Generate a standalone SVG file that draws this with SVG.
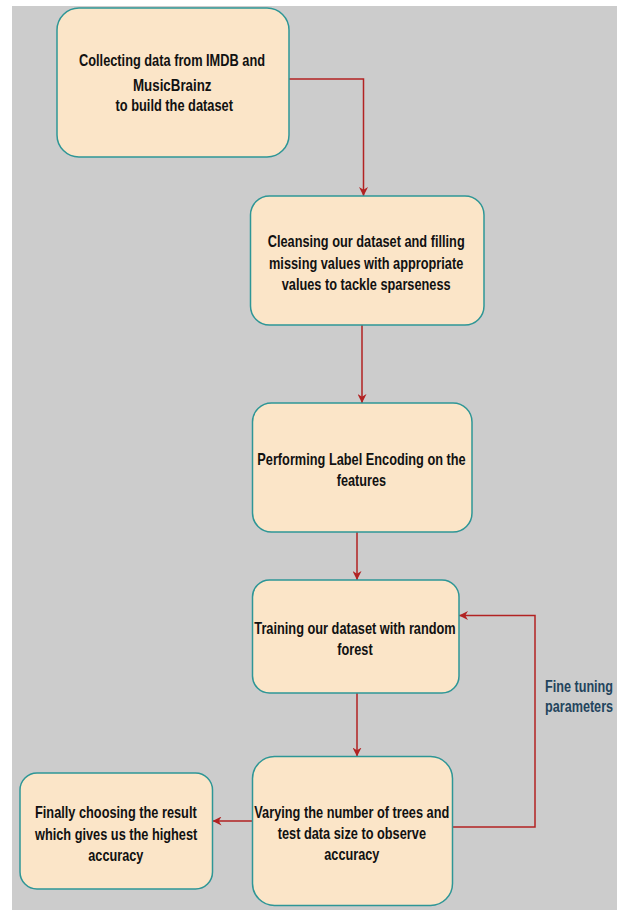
<svg xmlns="http://www.w3.org/2000/svg" width="619" height="910" viewBox="0 0 619 910">
<style>
.node rect{fill:#fbe5c8;stroke:#2e9696;stroke-width:1.5}
.t{font-family:"Liberation Sans",Arial,sans-serif;font-weight:bold;font-size:17px;fill:#111}
.lbl{font-family:"Liberation Sans",Arial,sans-serif;font-weight:bold;font-size:17px;fill:#23445d}
.edge{fill:none;stroke:#b22222;stroke-width:1.5;marker-end:url(#arr)}
</style>
<defs>
<marker id="arr" viewBox="0 0 10 10" refX="10" refY="5" markerWidth="9" markerHeight="9" markerUnits="userSpaceOnUse" orient="auto">
<path d="M0,0 L10,5 L0,10 L3,5 Z" fill="#b22222"/>
</marker>
</defs>
<rect x="12" y="6" width="605" height="904" fill="#cccccc"/>
<g id="connectors">
<path class="edge" d="M289,79 H363.5 V196"/>
<path class="edge" d="M362,325 V403"/>
<path class="edge" d="M357,532 V580"/>
<path class="edge" d="M357,693 V756.5"/>
<path class="edge" d="M252.5,821 H212.5"/>
<path class="edge" d="M452.5,827 H535 V615.5 H459"/>
<text class="lbl" transform="translate(545,691.6) scale(0.743,1)">Fine tuning</text>
<text class="lbl" transform="translate(545,711.8) scale(0.743,1)">parameters</text>
</g>
<g id="n1" class="node">
<rect x="57" y="8" width="232" height="149" rx="22" ry="22"/>
<text class="t" x="79" y="65.6" textLength="186" lengthAdjust="spacingAndGlyphs">Collecting data from IMDB and</text>
<text class="t" x="133" y="90.6" textLength="78.5" lengthAdjust="spacingAndGlyphs">MusicBrainz</text>
<text class="t" x="115.5" y="111.3" textLength="117.5" lengthAdjust="spacingAndGlyphs">to build the dataset</text>
</g>
<g id="n2" class="node">
<rect x="250.5" y="196" width="233.5" height="129" rx="19" ry="19"/>
<text class="t" x="267.7" y="247.3" textLength="197" lengthAdjust="spacingAndGlyphs">Cleansing our dataset and filling</text>
<text class="t" x="269" y="269" textLength="194.3" lengthAdjust="spacingAndGlyphs">missing values with appropriate</text>
<text class="t" x="281.7" y="290" textLength="169" lengthAdjust="spacingAndGlyphs">values to tackle sparseness</text>
</g>
<g id="n3" class="node">
<rect x="252.5" y="403" width="219.5" height="129" rx="19" ry="19"/>
<text class="t" x="257.3" y="465" textLength="208.4" lengthAdjust="spacingAndGlyphs">Performing Label Encoding on the</text>
<text class="t" x="336.7" y="486.3" textLength="49.3" lengthAdjust="spacingAndGlyphs">features</text>
</g>
<g id="n4" class="node">
<rect x="252.5" y="580" width="206.5" height="113" rx="17" ry="17"/>
<text class="t" x="254.3" y="634" textLength="201.4" lengthAdjust="spacingAndGlyphs">Training our dataset with random</text>
<text class="t" x="337.3" y="655" textLength="35.4" lengthAdjust="spacingAndGlyphs">forest</text>
</g>
<g id="n5" class="node">
<rect x="252.5" y="756.5" width="200" height="149" rx="22" ry="22"/>
<text class="t" x="254.3" y="818" textLength="195" lengthAdjust="spacingAndGlyphs">Varying the number of trees and</text>
<text class="t" x="277.7" y="839" textLength="148.3" lengthAdjust="spacingAndGlyphs">test data size to observe</text>
<text class="t" x="324.3" y="860" textLength="55" lengthAdjust="spacingAndGlyphs">accuracy</text>
</g>
<g id="n6" class="node">
<rect x="20" y="773" width="192.5" height="116" rx="17" ry="17"/>
<text class="t" x="35" y="818.3" textLength="161.7" lengthAdjust="spacingAndGlyphs">Finally choosing the result</text>
<text class="t" x="35" y="839.6" textLength="162.3" lengthAdjust="spacingAndGlyphs">which gives us the highest</text>
<text class="t" x="88.3" y="860.5" textLength="55" lengthAdjust="spacingAndGlyphs">accuracy</text>
</g>
</svg>
